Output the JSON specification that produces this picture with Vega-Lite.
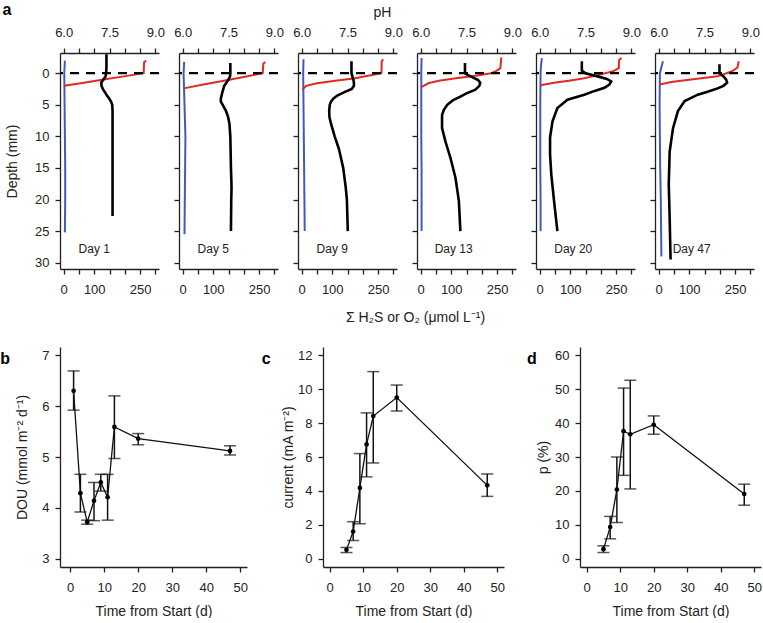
{
"$schema":"https://vega.github.io/schema/vega-lite/v6.json",
"background":"white",
"padding":{"left":0,"top":2,"right":0,"bottom":0},
"config":{
 "font":"Liberation Sans",
 "view":{"stroke":null},
 "axis":{"grid":false,"domainColor":"#222","tickColor":"#222","domainWidth":1.3,"tickWidth":1.3,"tickSize":5,"labelFont":"Liberation Sans","labelFontSize":13,"labelColor":"#222","titleFont":"Liberation Sans","titleFontSize":14,"titleFontWeight":"normal","titleColor":"#222","labelFlush":false,"labelOverlap":false},
 "axisX":{"labelPadding":9,"titlePadding":10},
 "axisY":{"labelPadding":6},
 "title":{"font":"Liberation Sans","fontSize":16,"fontWeight":"bold","color":"#000"}
},
"datasets":{
"profiles":[
{"day":1,"series":"H2S","depth":-2.0,"value":4},{"day":1,"series":"H2S","depth":0,"value":2},{"day":1,"series":"H2S","depth":5,"value":3},{"day":1,"series":"H2S","depth":10,"value":4},{"day":1,"series":"H2S","depth":15,"value":5},{"day":1,"series":"H2S","depth":20,"value":5},{"day":1,"series":"H2S","depth":25.2,"value":4},
{"day":1,"series":"O2","depth":-2.0,"value":270},{"day":1,"series":"O2","depth":-1.7,"value":263},{"day":1,"series":"O2","depth":0,"value":262},{"day":1,"series":"O2","depth":0.5,"value":197},{"day":1,"series":"O2","depth":1.0,"value":131},{"day":1,"series":"O2","depth":1.5,"value":66},{"day":1,"series":"O2","depth":2.0,"value":2},
{"day":1,"series":"pH","depth":-3.0,"value":7.40},{"day":1,"series":"pH","depth":-1,"value":7.40},{"day":1,"series":"pH","depth":0,"value":7.39},{"day":1,"series":"pH","depth":0.5,"value":7.37},{"day":1,"series":"pH","depth":1,"value":7.30},{"day":1,"series":"pH","depth":1.5,"value":7.23},{"day":1,"series":"pH","depth":2,"value":7.24},{"day":1,"series":"pH","depth":2.5,"value":7.28},{"day":1,"series":"pH","depth":3,"value":7.35},{"day":1,"series":"pH","depth":3.5,"value":7.41},{"day":1,"series":"pH","depth":4,"value":7.49},{"day":1,"series":"pH","depth":4.5,"value":7.55},{"day":1,"series":"pH","depth":5,"value":7.59},{"day":1,"series":"pH","depth":6,"value":7.60},{"day":1,"series":"pH","depth":10,"value":7.60},{"day":1,"series":"pH","depth":15,"value":7.60},{"day":1,"series":"pH","depth":20,"value":7.60},{"day":1,"series":"pH","depth":22.6,"value":7.60},
{"day":5,"series":"H2S","depth":-1.8,"value":5},{"day":5,"series":"H2S","depth":0,"value":3},{"day":5,"series":"H2S","depth":5,"value":6},{"day":5,"series":"H2S","depth":10,"value":9},{"day":5,"series":"H2S","depth":15,"value":8},{"day":5,"series":"H2S","depth":20,"value":7},{"day":5,"series":"H2S","depth":25.5,"value":6},
{"day":5,"series":"O2","depth":-1.8,"value":270},{"day":5,"series":"O2","depth":-1.5,"value":264},{"day":5,"series":"O2","depth":0,"value":262},{"day":5,"series":"O2","depth":0.6,"value":200},{"day":5,"series":"O2","depth":1.2,"value":135},{"day":5,"series":"O2","depth":1.8,"value":68},{"day":5,"series":"O2","depth":2.4,"value":3},
{"day":5,"series":"pH","depth":-1.6,"value":7.56},{"day":5,"series":"pH","depth":0,"value":7.56},{"day":5,"series":"pH","depth":0.5,"value":7.55},{"day":5,"series":"pH","depth":1,"value":7.50},{"day":5,"series":"pH","depth":1.5,"value":7.43},{"day":5,"series":"pH","depth":2,"value":7.36},{"day":5,"series":"pH","depth":3,"value":7.30},{"day":5,"series":"pH","depth":4,"value":7.25},{"day":5,"series":"pH","depth":4.5,"value":7.25},{"day":5,"series":"pH","depth":5,"value":7.31},{"day":5,"series":"pH","depth":6,"value":7.42},{"day":5,"series":"pH","depth":7,"value":7.49},{"day":5,"series":"pH","depth":8,"value":7.53},{"day":5,"series":"pH","depth":10,"value":7.56},{"day":5,"series":"pH","depth":15,"value":7.58},{"day":5,"series":"pH","depth":18,"value":7.60},{"day":5,"series":"pH","depth":20,"value":7.59},{"day":5,"series":"pH","depth":25,"value":7.58},
{"day":9,"series":"H2S","depth":-2.2,"value":6},{"day":9,"series":"H2S","depth":0,"value":5},{"day":9,"series":"H2S","depth":5,"value":6},{"day":9,"series":"H2S","depth":10,"value":7},{"day":9,"series":"H2S","depth":15,"value":8},{"day":9,"series":"H2S","depth":20,"value":9},{"day":9,"series":"H2S","depth":25,"value":10},
{"day":9,"series":"O2","depth":-2.2,"value":267},{"day":9,"series":"O2","depth":-1.9,"value":262},{"day":9,"series":"O2","depth":0,"value":261},{"day":9,"series":"O2","depth":0.3,"value":230},{"day":9,"series":"O2","depth":0.8,"value":175},{"day":9,"series":"O2","depth":1.2,"value":110},{"day":9,"series":"O2","depth":1.6,"value":50},{"day":9,"series":"O2","depth":2.0,"value":15},{"day":9,"series":"O2","depth":2.6,"value":2},
{"day":9,"series":"pH","depth":-1.9,"value":7.63},{"day":9,"series":"pH","depth":0,"value":7.63},{"day":9,"series":"pH","depth":0.5,"value":7.66},{"day":9,"series":"pH","depth":1,"value":7.69},{"day":9,"series":"pH","depth":1.5,"value":7.71},{"day":9,"series":"pH","depth":2,"value":7.71},{"day":9,"series":"pH","depth":2.5,"value":7.64},{"day":9,"series":"pH","depth":3,"value":7.40},{"day":9,"series":"pH","depth":3.5,"value":7.18},{"day":9,"series":"pH","depth":4,"value":7.04},{"day":9,"series":"pH","depth":4.5,"value":6.96},{"day":9,"series":"pH","depth":5,"value":6.92},{"day":9,"series":"pH","depth":6,"value":6.90},{"day":9,"series":"pH","depth":7,"value":6.91},{"day":9,"series":"pH","depth":8,"value":6.96},{"day":9,"series":"pH","depth":10,"value":7.08},{"day":9,"series":"pH","depth":12,"value":7.22},{"day":9,"series":"pH","depth":15,"value":7.36},{"day":9,"series":"pH","depth":18,"value":7.44},{"day":9,"series":"pH","depth":20,"value":7.48},{"day":9,"series":"pH","depth":25,"value":7.51},
{"day":13,"series":"H2S","depth":-2.4,"value":3},{"day":13,"series":"H2S","depth":0,"value":2},{"day":13,"series":"H2S","depth":5,"value":2},{"day":13,"series":"H2S","depth":10,"value":2},{"day":13,"series":"H2S","depth":15,"value":3},{"day":13,"series":"H2S","depth":20,"value":3},{"day":13,"series":"H2S","depth":25,"value":3},
{"day":13,"series":"O2","depth":-2.5,"value":264},{"day":13,"series":"O2","depth":-0.8,"value":261},{"day":13,"series":"O2","depth":-0.3,"value":245},{"day":13,"series":"O2","depth":0,"value":230},{"day":13,"series":"O2","depth":0.4,"value":180},{"day":13,"series":"O2","depth":0.8,"value":115},{"day":13,"series":"O2","depth":1.2,"value":60},{"day":13,"series":"O2","depth":1.6,"value":25},{"day":13,"series":"O2","depth":2.2,"value":2},
{"day":13,"series":"pH","depth":-1.6,"value":7.45},{"day":13,"series":"pH","depth":0,"value":7.45},{"day":13,"series":"pH","depth":0.3,"value":7.55},{"day":13,"series":"pH","depth":0.7,"value":7.72},{"day":13,"series":"pH","depth":1.1,"value":7.88},{"day":13,"series":"pH","depth":1.5,"value":7.95},{"day":13,"series":"pH","depth":2,"value":7.92},{"day":13,"series":"pH","depth":2.6,"value":7.79},{"day":13,"series":"pH","depth":3.2,"value":7.50},{"day":13,"series":"pH","depth":3.7,"value":7.30},{"day":13,"series":"pH","depth":4.3,"value":7.05},{"day":13,"series":"pH","depth":5,"value":6.87},{"day":13,"series":"pH","depth":5.8,"value":6.76},{"day":13,"series":"pH","depth":6.6,"value":6.70},{"day":13,"series":"pH","depth":8.7,"value":6.70},{"day":13,"series":"pH","depth":10.8,"value":6.81},{"day":13,"series":"pH","depth":13.5,"value":6.98},{"day":13,"series":"pH","depth":16.6,"value":7.14},{"day":13,"series":"pH","depth":20.2,"value":7.25},{"day":13,"series":"pH","depth":25,"value":7.30},
{"day":20,"series":"H2S","depth":-2.4,"value":7},{"day":20,"series":"H2S","depth":-1,"value":4},{"day":20,"series":"H2S","depth":0,"value":3},{"day":20,"series":"H2S","depth":5,"value":2},{"day":20,"series":"H2S","depth":10,"value":2},{"day":20,"series":"H2S","depth":15,"value":2},{"day":20,"series":"H2S","depth":20,"value":3},{"day":20,"series":"H2S","depth":25,"value":3},
{"day":20,"series":"O2","depth":-2.4,"value":268},{"day":20,"series":"O2","depth":-2.1,"value":260},{"day":20,"series":"O2","depth":-0.8,"value":259},{"day":20,"series":"O2","depth":-0.3,"value":240},{"day":20,"series":"O2","depth":0.3,"value":190},{"day":20,"series":"O2","depth":0.8,"value":146},{"day":20,"series":"O2","depth":1.2,"value":95},{"day":20,"series":"O2","depth":1.5,"value":47},{"day":20,"series":"O2","depth":1.9,"value":3},
{"day":20,"series":"pH","depth":-1.9,"value":7.38},{"day":20,"series":"pH","depth":-0.4,"value":7.38},{"day":20,"series":"pH","depth":0,"value":7.50},{"day":20,"series":"pH","depth":0.5,"value":7.90},{"day":20,"series":"pH","depth":0.9,"value":8.20},{"day":20,"series":"pH","depth":1.3,"value":8.34},{"day":20,"series":"pH","depth":1.8,"value":8.28},{"day":20,"series":"pH","depth":2.3,"value":8.12},{"day":20,"series":"pH","depth":2.8,"value":7.80},{"day":20,"series":"pH","depth":3.4,"value":7.46},{"day":20,"series":"pH","depth":4.2,"value":6.91},{"day":20,"series":"pH","depth":5.5,"value":6.58},{"day":20,"series":"pH","depth":7.6,"value":6.42},{"day":20,"series":"pH","depth":10.2,"value":6.34},{"day":20,"series":"pH","depth":12.8,"value":6.34},{"day":20,"series":"pH","depth":16,"value":6.38},{"day":20,"series":"pH","depth":20.2,"value":6.47},{"day":20,"series":"pH","depth":25,"value":6.58},
{"day":47,"series":"H2S","depth":-1.9,"value":14},{"day":47,"series":"H2S","depth":-1,"value":9},{"day":47,"series":"H2S","depth":0,"value":4},{"day":47,"series":"H2S","depth":5,"value":3},{"day":47,"series":"H2S","depth":10,"value":4},{"day":47,"series":"H2S","depth":15,"value":5},{"day":47,"series":"H2S","depth":20,"value":7},{"day":47,"series":"H2S","depth":25,"value":8},{"day":47,"series":"H2S","depth":29,"value":9},
{"day":47,"series":"O2","depth":-1.9,"value":262},{"day":47,"series":"O2","depth":-0.9,"value":258},{"day":47,"series":"O2","depth":-0.3,"value":240},{"day":47,"series":"O2","depth":0.5,"value":193},{"day":47,"series":"O2","depth":1.0,"value":106},{"day":47,"series":"O2","depth":1.4,"value":41},{"day":47,"series":"O2","depth":1.8,"value":3},
{"day":47,"series":"pH","depth":-1.4,"value":7.99},{"day":47,"series":"pH","depth":0,"value":7.99},{"day":47,"series":"pH","depth":0.5,"value":8.12},{"day":47,"series":"pH","depth":1.0,"value":8.21},{"day":47,"series":"pH","depth":1.5,"value":8.24},{"day":47,"series":"pH","depth":2.0,"value":8.12},{"day":47,"series":"pH","depth":2.4,"value":7.93},{"day":47,"series":"pH","depth":3.0,"value":7.55},{"day":47,"series":"pH","depth":3.4,"value":7.28},{"day":47,"series":"pH","depth":4.4,"value":6.85},{"day":47,"series":"pH","depth":6,"value":6.63},{"day":47,"series":"pH","depth":8.7,"value":6.47},{"day":47,"series":"pH","depth":12.4,"value":6.36},{"day":47,"series":"pH","depth":17.6,"value":6.33},{"day":47,"series":"pH","depth":22.9,"value":6.36},{"day":47,"series":"pH","depth":29.5,"value":6.39}
],
"dou":[{"day":1,"mean":6.30,"lo":5.92,"hi":6.69},{"day":3,"mean":4.29,"lo":3.92,"hi":4.66},{"day":5,"mean":3.72,"lo":3.68,"hi":3.76},{"day":7,"mean":4.14,"lo":3.75,"hi":4.50},{"day":9,"mean":4.50,"lo":4.33,"hi":4.66},{"day":11,"mean":4.21,"lo":3.76,"hi":4.66},{"day":13,"mean":5.59,"lo":4.97,"hi":6.20},{"day":20,"mean":5.36,"lo":5.24,"hi":5.46},{"day":47,"mean":5.12,"lo":5.04,"hi":5.22}],
"current":[{"day":5,"mean":0.53,"lo":0.37,"hi":0.67},{"day":7,"mean":1.61,"lo":1.08,"hi":2.19},{"day":9,"mean":4.18,"lo":2.07,"hi":6.2},{"day":11,"mean":6.74,"lo":4.83,"hi":8.6},{"day":13,"mean":8.41,"lo":5.65,"hi":11.03},{"day":20,"mean":9.5,"lo":8.71,"hi":10.24},{"day":47,"mean":4.33,"lo":3.68,"hi":5.0}],
"pct":[{"day":5,"mean":2.86,"lo":1.87,"hi":3.84},{"day":7,"mean":9.36,"lo":5.9,"hi":12.5},{"day":9,"mean":20.4,"lo":10.7,"hi":30.0},{"day":11,"mean":37.6,"lo":24.6,"hi":50.3},{"day":13,"mean":36.7,"lo":20.6,"hi":52.6},{"day":20,"mean":39.5,"lo":36.7,"hi":42.1},{"day":47,"mean":19.1,"lo":15.8,"hi":22.0}]
},
"vconcat":[
{"hconcat":[
 {"width":99,"height":216,"data":{"name":"profiles"},
  "title":{"text":"a","anchor":"start","frame":"bounds","offset":8,"dx":-3},
  "layer":[
   {"transform":[{"filter":"datum.day == 1 && datum.series != 'pH'"}],"mark":{"type":"line","strokeWidth":2},
    "encoding":{"x":{"field":"value","type":"quantitative","scale":{"domain":[-12,312],"nice":false,"zero":false},"axis":{"orient":"bottom","values":[0,50,100,150,200,250,300],"labelExpr":"datum.value == 0 || datum.value == 100 || datum.value == 250 ? datum.label : ''","title":null}},
     "y":{"field":"depth","type":"quantitative","scale":{"domain":[-3.2,31],"reverse":true,"nice":false,"zero":false},"axis":{"values":[0,5,10,15,20,25,30],"title":"Depth (mm)","titlePadding":15}},
     "color":{"field":"series","type":"nominal","scale":{"domain":["H2S","O2"],"range":["#4059c0","#e02a24"]},"legend":null},"order":{"field":"depth","type":"quantitative"}}},
   {"transform":[{"filter":"datum.day == 1 && datum.series == 'pH'"}],"mark":{"type":"line","strokeWidth":2.6,"color":"#000"},
    "encoding":{"x":{"field":"value","type":"quantitative","scale":{"domain":[5.88,9.12],"nice":false,"zero":false},"axis":{"orient":"top","values":[6,6.5,7,7.5,8,8.5,9],"labelExpr":"datum.value == 6 || datum.value == 7.5 || datum.value == 9 ? format(datum.value, '.1f') : ''","title":null}},
     "y":{"field":"depth","type":"quantitative","axis":{"values":[0,5,10,15,20,25,30],"title":"Depth (mm)","titlePadding":15}},
     "order":{"field":"depth","type":"quantitative"}}},
   {"data":{"values":[{"level":0}]},"mark":{"type":"rule","strokeDash":[9,7],"strokeWidth":2.2,"color":"#000"},"encoding":{"y":{"field":"level","type":"quantitative","axis":{"values":[0,5,10,15,20,25,30],"title":"Depth (mm)","titlePadding":15}}}},
   {"data":{"values":[{"label":"Day 1","pos":100,"depth":27.8}]},"mark":{"type":"text","fontSize":12,"color":"#222"},"encoding":{"x":{"field":"pos","type":"quantitative","scale":{"domain":[-12,312]},"axis":null},"y":{"field":"depth","type":"quantitative","axis":{"values":[0,5,10,15,20,25,30],"title":"Depth (mm)","titlePadding":15}},"text":{"field":"label"}}}
  ],
  "resolve":{"scale":{"x":"independent"},"axis":{"x":"independent"}}},
 {"width":99,"height":216,"data":{"name":"profiles"},
  "layer":[
   {"transform":[{"filter":"datum.day == 5 && datum.series != 'pH'"}],"mark":{"type":"line","strokeWidth":2},
    "encoding":{"x":{"field":"value","type":"quantitative","scale":{"domain":[-12,312],"nice":false,"zero":false},"axis":{"orient":"bottom","values":[0,50,100,150,200,250,300],"labelExpr":"datum.value == 0 || datum.value == 100 || datum.value == 250 ? datum.label : ''","title":null}},
     "y":{"field":"depth","type":"quantitative","scale":{"domain":[-3.2,31],"reverse":true,"nice":false,"zero":false},"axis":{"values":[0,5,10,15,20,25,30],"labels":false,"title":null}},
     "color":{"field":"series","type":"nominal","scale":{"domain":["H2S","O2"],"range":["#4059c0","#e02a24"]},"legend":null},"order":{"field":"depth","type":"quantitative"}}},
   {"transform":[{"filter":"datum.day == 5 && datum.series == 'pH'"}],"mark":{"type":"line","strokeWidth":2.6,"color":"#000"},
    "encoding":{"x":{"field":"value","type":"quantitative","scale":{"domain":[5.88,9.12],"nice":false,"zero":false},"axis":{"orient":"top","values":[6,6.5,7,7.5,8,8.5,9],"labelExpr":"datum.value == 6 || datum.value == 7.5 || datum.value == 9 ? format(datum.value, '.1f') : ''","title":null}},
     "y":{"field":"depth","type":"quantitative","axis":{"values":[0,5,10,15,20,25,30],"labels":false,"title":null}},
     "order":{"field":"depth","type":"quantitative"}}},
   {"data":{"values":[{"level":0}]},"mark":{"type":"rule","strokeDash":[9,7],"strokeWidth":2.2,"color":"#000"},"encoding":{"y":{"field":"level","type":"quantitative","axis":{"values":[0,5,10,15,20,25,30],"labels":false,"title":null}}}},
   {"data":{"values":[{"label":"Day 5","pos":100,"depth":27.8}]},"mark":{"type":"text","fontSize":12,"color":"#222"},"encoding":{"x":{"field":"pos","type":"quantitative","scale":{"domain":[-12,312]},"axis":null},"y":{"field":"depth","type":"quantitative","axis":{"values":[0,5,10,15,20,25,30],"labels":false,"title":null}},"text":{"field":"label"}}}
  ],
  "resolve":{"scale":{"x":"independent"},"axis":{"x":"independent"}}},
 {"width":99,"height":216,"data":{"name":"profiles"},
  "layer":[
   {"transform":[{"filter":"datum.day == 9 && datum.series != 'pH'"}],"mark":{"type":"line","strokeWidth":2},
    "encoding":{"x":{"field":"value","type":"quantitative","scale":{"domain":[-12,312],"nice":false,"zero":false},"axis":{"orient":"bottom","values":[0,50,100,150,200,250,300],"labelExpr":"datum.value == 0 || datum.value == 100 || datum.value == 250 ? datum.label : ''","title":"Σ H₂S or O₂ (μmol L⁻¹)","titleX":117,"titlePadding":14}},
     "y":{"field":"depth","type":"quantitative","scale":{"domain":[-3.2,31],"reverse":true,"nice":false,"zero":false},"axis":{"values":[0,5,10,15,20,25,30],"labels":false,"title":null}},
     "color":{"field":"series","type":"nominal","scale":{"domain":["H2S","O2"],"range":["#4059c0","#e02a24"]},"legend":null},"order":{"field":"depth","type":"quantitative"}}},
   {"transform":[{"filter":"datum.day == 9 && datum.series == 'pH'"}],"mark":{"type":"line","strokeWidth":2.6,"color":"#000"},
    "encoding":{"x":{"field":"value","type":"quantitative","scale":{"domain":[5.88,9.12],"nice":false,"zero":false},"axis":{"orient":"top","values":[6,6.5,7,7.5,8,8.5,9],"labelExpr":"datum.value == 6 || datum.value == 7.5 || datum.value == 9 ? format(datum.value, '.1f') : ''","title":"pH","titleX":84,"titlePadding":7}},
     "y":{"field":"depth","type":"quantitative","axis":{"values":[0,5,10,15,20,25,30],"labels":false,"title":null}},
     "order":{"field":"depth","type":"quantitative"}}},
   {"data":{"values":[{"level":0}]},"mark":{"type":"rule","strokeDash":[9,7],"strokeWidth":2.2,"color":"#000"},"encoding":{"y":{"field":"level","type":"quantitative","axis":{"values":[0,5,10,15,20,25,30],"labels":false,"title":null}}}},
   {"data":{"values":[{"label":"Day 9","pos":100,"depth":27.8}]},"mark":{"type":"text","fontSize":12,"color":"#222"},"encoding":{"x":{"field":"pos","type":"quantitative","scale":{"domain":[-12,312]},"axis":null},"y":{"field":"depth","type":"quantitative","axis":{"values":[0,5,10,15,20,25,30],"labels":false,"title":null}},"text":{"field":"label"}}}
  ],
  "resolve":{"scale":{"x":"independent"},"axis":{"x":"independent"}}},
 {"width":99,"height":216,"data":{"name":"profiles"},
  "layer":[
   {"transform":[{"filter":"datum.day == 13 && datum.series != 'pH'"}],"mark":{"type":"line","strokeWidth":2},
    "encoding":{"x":{"field":"value","type":"quantitative","scale":{"domain":[-12,312],"nice":false,"zero":false},"axis":{"orient":"bottom","values":[0,50,100,150,200,250,300],"labelExpr":"datum.value == 0 || datum.value == 100 || datum.value == 250 ? datum.label : ''","title":null}},
     "y":{"field":"depth","type":"quantitative","scale":{"domain":[-3.2,31],"reverse":true,"nice":false,"zero":false},"axis":{"values":[0,5,10,15,20,25,30],"labels":false,"title":null}},
     "color":{"field":"series","type":"nominal","scale":{"domain":["H2S","O2"],"range":["#4059c0","#e02a24"]},"legend":null},"order":{"field":"depth","type":"quantitative"}}},
   {"transform":[{"filter":"datum.day == 13 && datum.series == 'pH'"}],"mark":{"type":"line","strokeWidth":2.6,"color":"#000"},
    "encoding":{"x":{"field":"value","type":"quantitative","scale":{"domain":[5.88,9.12],"nice":false,"zero":false},"axis":{"orient":"top","values":[6,6.5,7,7.5,8,8.5,9],"labelExpr":"datum.value == 6 || datum.value == 7.5 || datum.value == 9 ? format(datum.value, '.1f') : ''","title":null}},
     "y":{"field":"depth","type":"quantitative","axis":{"values":[0,5,10,15,20,25,30],"labels":false,"title":null}},
     "order":{"field":"depth","type":"quantitative"}}},
   {"data":{"values":[{"level":0}]},"mark":{"type":"rule","strokeDash":[9,7],"strokeWidth":2.2,"color":"#000"},"encoding":{"y":{"field":"level","type":"quantitative","axis":{"values":[0,5,10,15,20,25,30],"labels":false,"title":null}}}},
   {"data":{"values":[{"label":"Day 13","pos":108,"depth":27.8}]},"mark":{"type":"text","fontSize":12,"color":"#222"},"encoding":{"x":{"field":"pos","type":"quantitative","scale":{"domain":[-12,312]},"axis":null},"y":{"field":"depth","type":"quantitative","axis":{"values":[0,5,10,15,20,25,30],"labels":false,"title":null}},"text":{"field":"label"}}}
  ],
  "resolve":{"scale":{"x":"independent"},"axis":{"x":"independent"}}},
 {"width":99,"height":216,"data":{"name":"profiles"},
  "layer":[
   {"transform":[{"filter":"datum.day == 20 && datum.series != 'pH'"}],"mark":{"type":"line","strokeWidth":2},
    "encoding":{"x":{"field":"value","type":"quantitative","scale":{"domain":[-12,312],"nice":false,"zero":false},"axis":{"orient":"bottom","values":[0,50,100,150,200,250,300],"labelExpr":"datum.value == 0 || datum.value == 100 || datum.value == 250 ? datum.label : ''","title":null}},
     "y":{"field":"depth","type":"quantitative","scale":{"domain":[-3.2,31],"reverse":true,"nice":false,"zero":false},"axis":{"values":[0,5,10,15,20,25,30],"labels":false,"title":null}},
     "color":{"field":"series","type":"nominal","scale":{"domain":["H2S","O2"],"range":["#4059c0","#e02a24"]},"legend":null},"order":{"field":"depth","type":"quantitative"}}},
   {"transform":[{"filter":"datum.day == 20 && datum.series == 'pH'"}],"mark":{"type":"line","strokeWidth":2.6,"color":"#000"},
    "encoding":{"x":{"field":"value","type":"quantitative","scale":{"domain":[5.88,9.12],"nice":false,"zero":false},"axis":{"orient":"top","values":[6,6.5,7,7.5,8,8.5,9],"labelExpr":"datum.value == 6 || datum.value == 7.5 || datum.value == 9 ? format(datum.value, '.1f') : ''","title":null}},
     "y":{"field":"depth","type":"quantitative","axis":{"values":[0,5,10,15,20,25,30],"labels":false,"title":null}},
     "order":{"field":"depth","type":"quantitative"}}},
   {"data":{"values":[{"level":0}]},"mark":{"type":"rule","strokeDash":[9,7],"strokeWidth":2.2,"color":"#000"},"encoding":{"y":{"field":"level","type":"quantitative","axis":{"values":[0,5,10,15,20,25,30],"labels":false,"title":null}}}},
   {"data":{"values":[{"label":"Day 20","pos":110,"depth":27.8}]},"mark":{"type":"text","fontSize":12,"color":"#222"},"encoding":{"x":{"field":"pos","type":"quantitative","scale":{"domain":[-12,312]},"axis":null},"y":{"field":"depth","type":"quantitative","axis":{"values":[0,5,10,15,20,25,30],"labels":false,"title":null}},"text":{"field":"label"}}}
  ],
  "resolve":{"scale":{"x":"independent"},"axis":{"x":"independent"}}},
 {"width":99,"height":216,"data":{"name":"profiles"},
  "layer":[
   {"transform":[{"filter":"datum.day == 47 && datum.series != 'pH'"}],"mark":{"type":"line","strokeWidth":2},
    "encoding":{"x":{"field":"value","type":"quantitative","scale":{"domain":[-12,312],"nice":false,"zero":false},"axis":{"orient":"bottom","values":[0,50,100,150,200,250,300],"labelExpr":"datum.value == 0 || datum.value == 100 || datum.value == 250 ? datum.label : ''","title":null}},
     "y":{"field":"depth","type":"quantitative","scale":{"domain":[-3.2,31],"reverse":true,"nice":false,"zero":false},"axis":{"values":[0,5,10,15,20,25,30],"labels":false,"title":null}},
     "color":{"field":"series","type":"nominal","scale":{"domain":["H2S","O2"],"range":["#4059c0","#e02a24"]},"legend":null},"order":{"field":"depth","type":"quantitative"}}},
   {"transform":[{"filter":"datum.day == 47 && datum.series == 'pH'"}],"mark":{"type":"line","strokeWidth":2.6,"color":"#000"},
    "encoding":{"x":{"field":"value","type":"quantitative","scale":{"domain":[5.88,9.12],"nice":false,"zero":false},"axis":{"orient":"top","values":[6,6.5,7,7.5,8,8.5,9],"labelExpr":"datum.value == 6 || datum.value == 7.5 || datum.value == 9 ? format(datum.value, '.1f') : ''","title":null}},
     "y":{"field":"depth","type":"quantitative","axis":{"values":[0,5,10,15,20,25,30],"labels":false,"title":null}},
     "order":{"field":"depth","type":"quantitative"}}},
   {"data":{"values":[{"level":0}]},"mark":{"type":"rule","strokeDash":[9,7],"strokeWidth":2.2,"color":"#000"},"encoding":{"y":{"field":"level","type":"quantitative","axis":{"values":[0,5,10,15,20,25,30],"labels":false,"title":null}}}},
   {"data":{"values":[{"label":"Day 47","pos":108,"depth":27.8}]},"mark":{"type":"text","fontSize":12,"color":"#222"},"encoding":{"x":{"field":"pos","type":"quantitative","scale":{"domain":[-12,312]},"axis":null},"y":{"field":"depth","type":"quantitative","axis":{"values":[0,5,10,15,20,25,30],"labels":false,"title":null}},"text":{"field":"label"}}}
  ],
  "resolve":{"scale":{"x":"independent"},"axis":{"x":"independent"}}}
],"spacing":20,"bounds":"flush"},
{"hconcat":[
 {"width":187,"height":220,"data":{"name":"dou"},
  "title":{"text":"b","orient":"left","anchor":"end","angle":0,"frame":"bounds","offset":-4,"baseline":"top","dy":4},
  "encoding":{"x":{"field":"day","type":"quantitative","scale":{"domain":[-3,52],"nice":false,"zero":false},"axis":{"values":[0,10,20,30,40,50],"title":"Time from Start (d)"}},
   "y":{"field":"mean","type":"quantitative","title":"DOU (mmol m⁻² d⁻¹)","scale":{"domain":[2.84,7.16],"nice":false,"zero":false},"axis":{"values":[3,4,5,6,7],"titlePadding":12}}},
  "layer":[
   {"mark":{"type":"line","color":"#111","strokeWidth":1.3}},
   {"mark":{"type":"errorbar","ticks":{"size":12},"thickness":1.5,"color":"#111"},"encoding":{"y":{"field":"lo","type":"quantitative","title":"DOU (mmol m⁻² d⁻¹)"},"y2":{"field":"hi"}}},
   {"mark":{"type":"point","filled":true,"size":22,"color":"#000","opacity":1}}
  ]},
 {"width":181,"height":220,"data":{"name":"current"},
  "title":{"text":"c","orient":"left","anchor":"end","angle":0,"frame":"bounds","offset":2,"baseline":"top","dy":4},
  "encoding":{"x":{"field":"day","type":"quantitative","scale":{"domain":[-2,52],"nice":false,"zero":false},"axis":{"values":[0,10,20,30,40,50],"title":"Time from Start (d)"}},
   "y":{"field":"mean","type":"quantitative","title":"current (mA m⁻²)","scale":{"domain":[-0.48,12.48],"nice":false,"zero":false},"axis":{"values":[0,2,4,6,8,10,12],"titlePadding":2}}},
  "layer":[
   {"mark":{"type":"line","color":"#111","strokeWidth":1.3}},
   {"mark":{"type":"errorbar","ticks":{"size":12},"thickness":1.5,"color":"#111"},"encoding":{"y":{"field":"lo","type":"quantitative","title":"current (mA m⁻²)"},"y2":{"field":"hi"}}},
   {"mark":{"type":"point","filled":true,"size":22,"color":"#000","opacity":1}}
  ]},
 {"width":181,"height":220,"data":{"name":"pct"},
  "title":{"text":"d","orient":"left","anchor":"end","angle":0,"frame":"bounds","offset":-10,"baseline":"top","dy":4},
  "encoding":{"x":{"field":"day","type":"quantitative","scale":{"domain":[-2,52],"nice":false,"zero":false},"axis":{"values":[0,10,20,30,40,50],"title":"Time from Start (d)"}},
   "y":{"field":"mean","type":"quantitative","title":"p (%)","scale":{"domain":[-2.4,62.4],"nice":false,"zero":false},"axis":{"values":[0,10,20,30,40,50,60],"titlePadding":4}}},
  "layer":[
   {"mark":{"type":"line","color":"#111","strokeWidth":1.3}},
   {"mark":{"type":"errorbar","ticks":{"size":12},"thickness":1.5,"color":"#111"},"encoding":{"y":{"field":"lo","type":"quantitative","title":"p (%)"},"y2":{"field":"hi"}}},
   {"mark":{"type":"point","filled":true,"size":22,"color":"#000","opacity":1}}
  ]}
],"spacing":76,"bounds":"flush"}
],
"spacing":23,
"bounds":"full"
}
